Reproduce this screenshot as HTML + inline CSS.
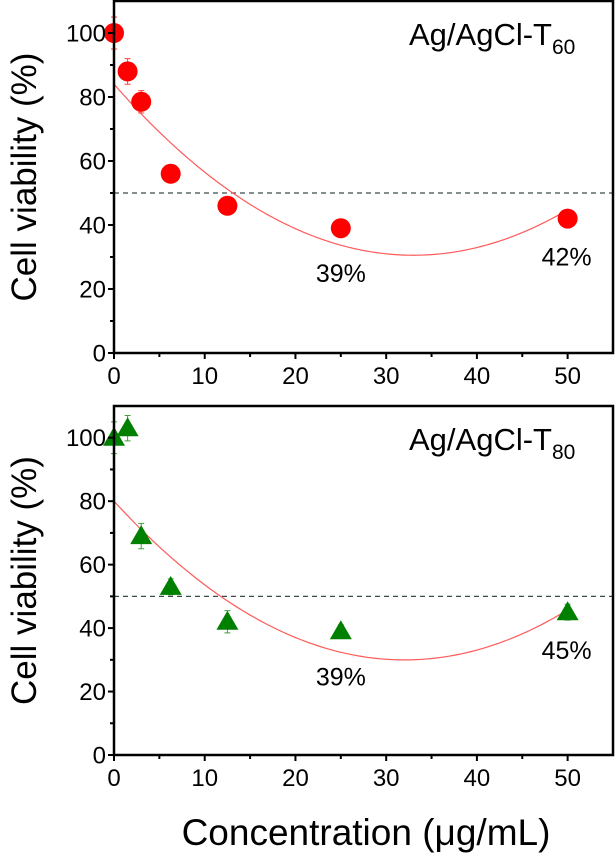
<!DOCTYPE html>
<html><head><meta charset="utf-8"><style>
html,body{margin:0;padding:0;background:#fff;}
svg{display:block;font-family:"Liberation Sans",sans-serif;}
</style></head><body>
<svg id="chart" width="616" height="857" viewBox="0 0 616 857" xmlns="http://www.w3.org/2000/svg"></svg>
<script>
const categories = [0, 1.5, 3, 6.25, 12.5, 25, 50];
const seriesT60 = [100, 88, 78.5, 56, 46, 39, 42];
const errorsT60 = [5, 4, 3.5, 1.5, 1.5, 1.5, 1.5];
const seriesT80 = [100, 103, 69, 53, 42, 39, 45];
const errorsT80 = [5, 4, 4, 2.5, 3.5, 2, 2.5];
const fitT60 = [84, -3.24, 0.0491];
const fitT80 = [80, -3.125, 0.0488];
const xTicks = [0, 10, 20, 30, 40, 50];
const yTicks = [0, 20, 40, 60, 80, 100];
const labelsT60 = [{x:25, y:39, t:"39%"}, {x:50, y:42, t:"42%"}];
const labelsT80 = [{x:25, y:39, t:"39%"}, {x:50, y:45, t:"45%"}];

const NS = "http://www.w3.org/2000/svg";
const svg = document.getElementById('chart');
function mk(tag, attrs, parent, text){
  const e = document.createElementNS(NS, tag);
  for (const k in attrs) e.setAttribute(k, attrs[k]);
  if (text !== undefined) e.textContent = text;
  (parent || svg).appendChild(e);
  return e;
}

function panel(opt){
  const L=114, R=613, T=opt.top, B=opt.bottom;
  const xs = v => L + v*(R-L)/55;
  const ys = v => B - v*(B-T)/110;
  const g = mk('g', {});  
  const d = mk('line',{x1:L,x2:R,y1:ys(50),y2:ys(50),stroke:'#3a4a4a','stroke-width':1.2,'stroke-dasharray':'5,4'},g);
   
  let p='';
  for(let i=0;i<=100;i++){const x=50*i/100;const y=opt.fit[0]+opt.fit[1]*x+opt.fit[2]*x*x;p+=(i?'L':'M')+xs(x).toFixed(2)+','+ys(y).toFixed(2);}
  const c = mk('path',{d:p,fill:'none',stroke:'#ff5a5a','stroke-width':1.2},g);
   
  categories.forEach((cx,i)=>{
    const v=opt.data[i], e=opt.err[i], X=xs(cx), Y=ys(v);
    const eb = mk('path',{d:`M${X},${ys(v+e)}V${ys(v-e)}M${X-3},${ys(v+e)}H${X+3}M${X-3},${ys(v-e)}H${X+3}`,stroke:opt.ecol,'stroke-width':1,fill:'none'},g);
     
    let m;
    if(opt.marker==='circle'){ m = mk('circle',{cx:X,cy:Y,r:10,fill:'#ff0000'},g); }
    else { m = mk('polygon',{points:`${X},${Y-11} ${X-11},${Y+8} ${X+11},${Y+8}`,fill:'#008000'},g); }
     
  });
  const f = mk('rect',{x:L,y:T,width:R-L,height:B-T,fill:'none',stroke:'#000','stroke-width':2.5},g);
   
  xTicks.forEach(t=>{
    mk('line',{x1:xs(t),x2:xs(t),y1:B,y2:B+6,stroke:'#000','stroke-width':2},g);
    const tl = mk('text',{x:xs(t),y:B+31,'text-anchor':'middle','font-size':24},g,String(t));
     
    if(t<50) mk('line',{x1:xs(t+5),x2:xs(t+5),y1:B,y2:B+4,stroke:'#000','stroke-width':2},g);
  });
  yTicks.forEach(t=>{
    mk('line',{x1:L-6,x2:L,y1:ys(t),y2:ys(t),stroke:'#000','stroke-width':2},g);
    const tl = mk('text',{x:L-8,y:ys(t)+8.5,'text-anchor':'end','font-size':24},g,String(t));
     
    if(t<100) mk('line',{x1:L-4,x2:L,y1:ys(t+10),y2:ys(t+10),stroke:'#000','stroke-width':2},g);
  });
  opt.labels.forEach(l=>{
    const t = mk('text',{x:xs(l.x)-(l.x===50?26:25),y:ys(l.y)+(l.x===50?opt.dy50:opt.dy25),'font-size':25},g,l.t);
     
  });
  const tt = mk('text',{x:409,y:T+44,'font-size':31},g);
   
  mk('tspan',{},tt,'Ag/AgCl-T');
  mk('tspan',{'font-size':21,dy:9},tt,opt.sub);
  const yt = mk('text',{x:0,y:0,'font-size':35,'text-anchor':'middle',transform:`translate(36,${(T+B)/2}) rotate(-90)`},g,'Cell viability (%)');
   
}

panel({name:'panel-t60',top:1,bottom:353,data:seriesT60,err:errorsT60,fit:fitT60,marker:'circle',ecol:'#ff4040',labels:labelsT60,sub:'60',dy25:54,dy50:47});
panel({name:'panel-t80',top:406,bottom:755,data:seriesT80,err:errorsT80,fit:fitT80,marker:'tri',ecol:'#40a040',labels:labelsT80,sub:'80',dy25:54,dy50:47});

const xt = mk('text',{x:366,y:845,'font-size':37,'text-anchor':'middle'},svg,'Concentration (μg/mL)');


</script>
</body></html>
